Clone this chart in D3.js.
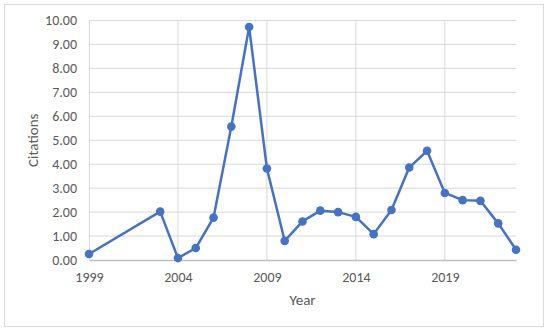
<!DOCTYPE html>
<html>
<head>
<meta charset="utf-8">
<script src="https://cdn.jsdelivr.net/npm/d3@7"></script>
<style>
  body { margin: 0; background: #fff; }
  svg text { font-family: "Carlito", "Lato", "Open Sans", sans-serif; fill: #595959; }
</style>
</head>
<body>
<div id="chart"></div>
<script>
const years = [1999, 2003, 2004, 2005, 2006, 2007, 2008, 2009, 2010, 2011, 2012,
               2013, 2014, 2015, 2016, 2017, 2018, 2019, 2020, 2021, 2022, 2023];
const citations = [0.25, 2.02, 0.08, 0.50, 1.77, 5.57, 9.73, 3.82, 0.80, 1.61, 2.06,
                   2.00, 1.80, 1.08, 2.09, 3.86, 4.56, 2.80, 2.50, 2.47, 1.53, 0.43];
const xTicks = [1999, 2004, 2009, 2014, 2019];
const yTicks = [0, 1, 2, 3, 4, 5, 6, 7, 8, 9, 10];

const WIDTH = 550, HEIGHT = 332;
const MARGINS = {left: 89, right: 34, top: 20.5, bottom: 72};

const svg = d3.select("#chart").append("svg")
  .attr("width", WIDTH).attr("height", HEIGHT);

// chart border
svg.append("rect")
  .attr("x", 4.5).attr("y", 4.5)
  .attr("width", 539).attr("height", 322)
  .attr("fill", "#fff").attr("stroke", "#d9d9d9");

const X = d3.scaleLinear().domain([1999, 2023])
  .range([MARGINS.left, WIDTH - MARGINS.right]);
const Y = d3.scaleLinear().domain([0, 10])
  .range([HEIGHT - MARGINS.bottom, MARGINS.top]);

// horizontal gridlines
svg.append("g").selectAll("line").data(yTicks.slice(1)).join("line")
  .attr("x1", X(1999)).attr("x2", X(2023))
  .attr("y1", d => Y(d)).attr("y2", d => Y(d))
  .attr("stroke", "#d9d9d9").attr("stroke-width", 1);

// vertical gridlines
svg.append("g").selectAll("line").data(xTicks.slice(1)).join("line")
  .attr("x1", d => X(d)).attr("x2", d => X(d))
  .attr("y1", Y(0)).attr("y2", Y(10))
  .attr("stroke", "#d9d9d9").attr("stroke-width", 1);

// axes
const xAxis = svg.append("g")
  .attr("transform", "translate(0," + Y(0) + ")")
  .call(d3.axisBottom(X).tickValues(xTicks).tickFormat(d3.format("d")).tickSize(0).tickPadding(12));
xAxis.select(".domain").attr("stroke", "#bfbfbf").attr("stroke-width", 1.3);
xAxis.selectAll("text").attr("font-size", "14px");

const yAxis = svg.append("g")
  .attr("transform", "translate(" + X(1999) + ",0)")
  .call(d3.axisLeft(Y).tickValues(yTicks).tickFormat(d3.format(".2f")).tickSize(0).tickPadding(12));
yAxis.select(".domain").attr("stroke", "#d9d9d9");
yAxis.selectAll("text").attr("font-size", "14px");

// line
svg.append("path")
  .datum(years.map((y, i) => [y, citations[i]]))
  .attr("fill", "none")
  .attr("stroke", "#4472c4")
  .attr("stroke-width", 2.5)
  .attr("stroke-linejoin", "round")
  .attr("d", d3.line().x(d => X(d[0])).y(d => Y(d[1])));

svg.append("g").selectAll("circle").data(years).join("circle")
  .attr("cx", d => X(d))
  .attr("cy", (d, i) => Y(citations[i]))
  .attr("r", 4.3)
  .attr("fill", "#4472c4");

// axis titles
svg.append("text")
  .attr("x", (X(1999) + X(2023)) / 2).attr("y", 305)
  .attr("text-anchor", "middle").attr("font-size", "15px")
  .text("Year");

svg.append("text")
  .attr("transform", "translate(38," + ((Y(0) + Y(10)) / 2) + ") rotate(-90)")
  .attr("text-anchor", "middle").attr("font-size", "15px")
  .text("Citations");
</script>
</body>
</html>
